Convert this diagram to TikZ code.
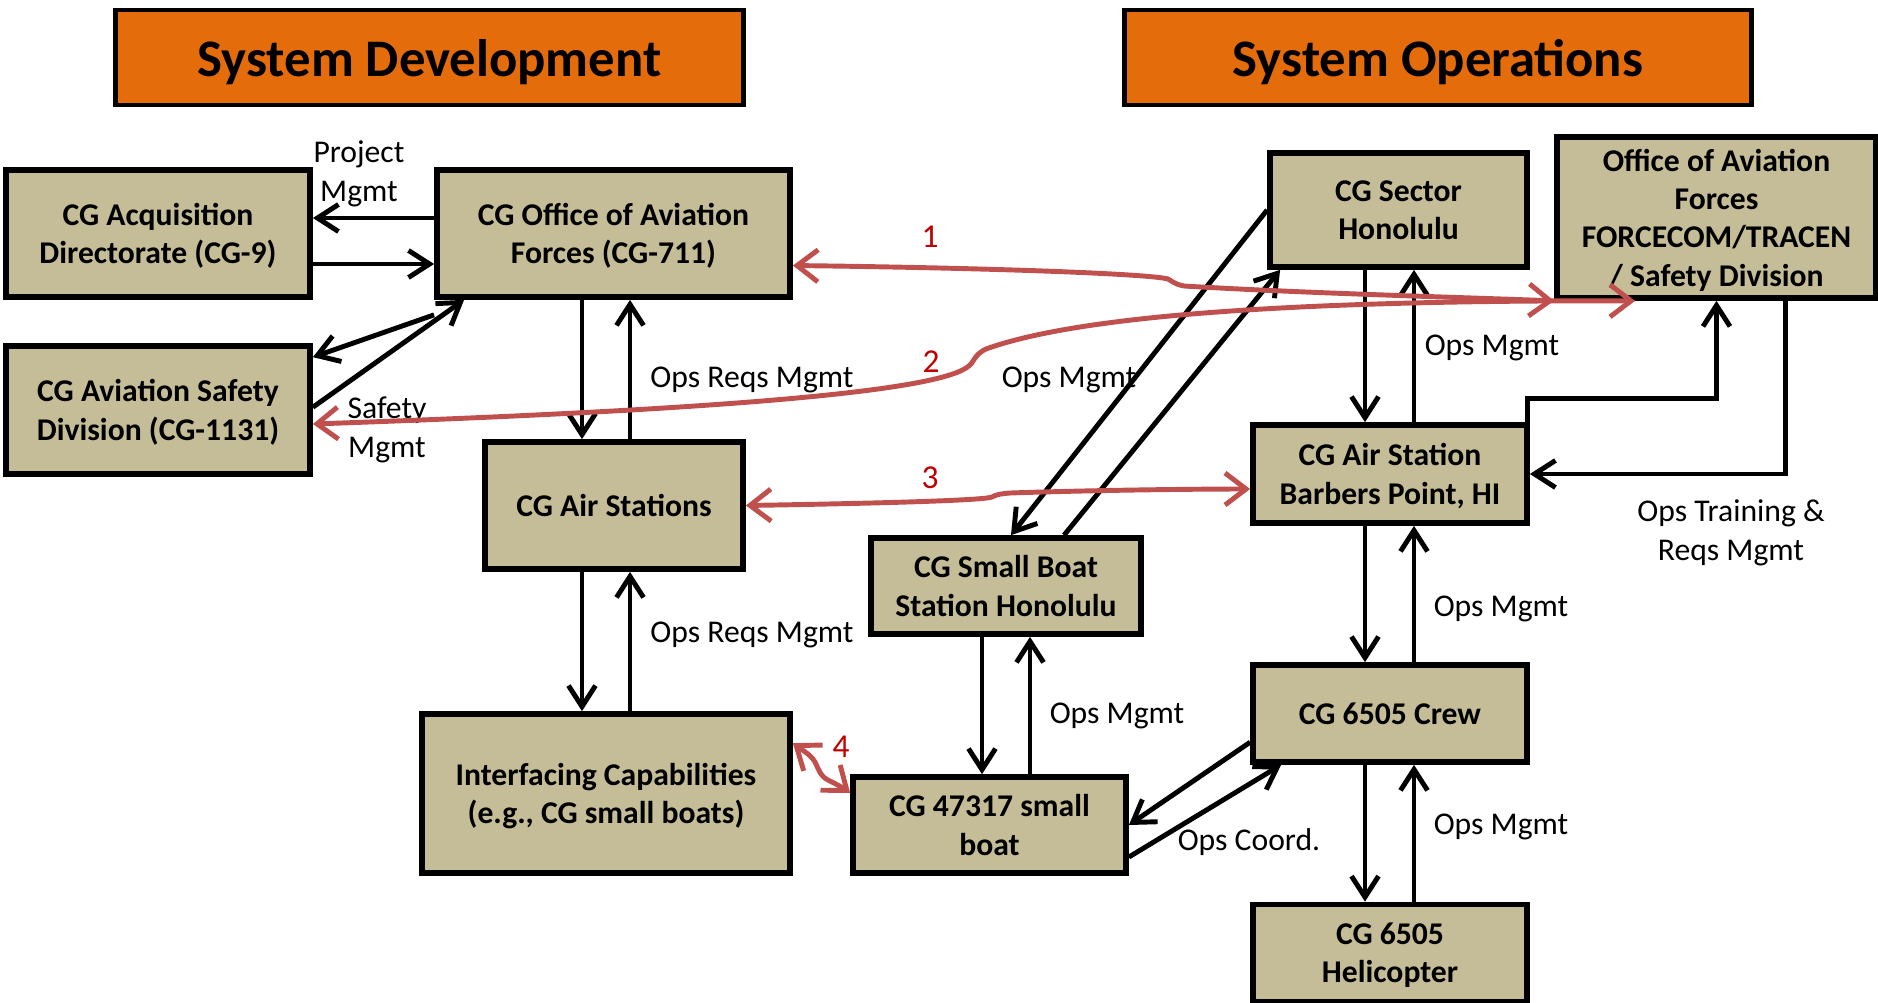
\documentclass[tikz,border=0pt]{standalone}
\usepackage{fontspec}
\setmainfont{Carlito}
\usepackage{tikz}
\usetikzlibrary{arrows.meta}

\definecolor{boxtan}{RGB}{196,189,151}
\definecolor{headorange}{RGB}{228,108,10}
\definecolor{linkred}{RGB}{192,80,77}
\definecolor{numred}{RGB}{192,0,0}

\begin{document}
\begin{tikzpicture}[x=0.01cm, y=-0.01cm,
  box/.style={draw, line width=1.6pt, fill=boxtan, align=center, inner sep=0pt, text depth=0pt,
    font=\fontsize{9}{10.9}\selectfont\bfseries},
  head/.style={draw, line width=1.4pt, fill=headorange, inner sep=0pt, text depth=0pt,
    minimum width=6.27cm, minimum height=0.95cm, font=\fontsize{15}{18}\selectfont\bfseries},
  lbl/.style={align=center, inner sep=0pt, text depth=0pt, font=\fontsize{9}{10.9}\selectfont},
  num/.style={inner sep=0pt, text=numred, font=\fontsize{9.5}{11}\selectfont},
  arr/.style={-{Straight Barb[length=2.1mm,width=2.7mm]}, line width=1.4pt},
  redarr/.style={{Straight Barb[length=2.1mm,width=3.2mm]}-{Straight Barb[length=2.1mm,width=3.2mm]},
    line width=1.4pt, draw=linkred}]
\useasboundingbox (0,0) rectangle (1878,1003);

% headings
\node[head] (hdev) at (429.5,57.5) {System Development};
\node[head] (hops) at (1438,57.5) {System Operations};

% system development
\node[box, minimum width=3.04cm, minimum height=1.27cm] (acq) at (158,233.5) {CG Acquisition\\Directorate (CG-9)};
\node[box, minimum width=3.53cm, minimum height=1.27cm] (of711) at (613.5,233.5) {CG Office of Aviation\\Forces (CG-711)};
\node[box, minimum width=3.04cm, minimum height=1.28cm] (safety) at (158,410) {CG Aviation Safety\\Division (CG-1131)};
\node[box, minimum width=2.58cm, minimum height=1.27cm] (airst) at (614,505.5) {CG Air Stations};
\node[box, minimum width=3.68cm, minimum height=1.59cm] (iface) at (606,793.5) {Interfacing Capabilities\\(e.g., CG small boats)};

% system operations
\node[box, minimum width=2.70cm, minimum height=0.96cm] (sbst) at (1006,586) {CG Small Boat\\Station Honolulu};
\node[box, minimum width=2.73cm, minimum height=0.96cm] (boat) at (989.5,825) {CG 47317 small\\boat};
\node[box, minimum width=2.57cm, minimum height=1.14cm] (sector) at (1398.5,210) {CG Sector\\Honolulu};
\node[box, minimum width=3.19cm, minimum height=1.61cm] (forcecom) at (1716.5,217.5) {Office of Aviation\\Forces\\FORCECOM/TRACEN\\/ Safety Division};
\node[box, minimum width=2.74cm, minimum height=0.98cm] (barbers) at (1390,474) {CG Air Station\\Barbers Point, HI};
\node[box, minimum width=2.74cm, minimum height=0.97cm] (crew) at (1390,713.5) {CG 6505 Crew};
\node[box, minimum width=2.74cm, minimum height=0.97cm] (heli) at (1390,953) {CG 6505\\Helicopter};

% columns and rows of the paired arrows
\coordinate (c1) at (582,0);
\coordinate (c2) at (630,0);
\coordinate (c3) at (982,0);
\coordinate (c4) at (1030,0);
\coordinate (c5) at (1365,0);
\coordinate (c6) at (1414,0);
\coordinate (r1) at (0,218);
\coordinate (r2) at (0,264);

% black connectors
\draw[arr] (of711.west |- r1) -- (acq.east |- r1);
\draw[arr] (acq.east |- r2) -- (of711.west |- r2);
\draw[arr] ([yshift=-1.5mm]of711.south west) -- ([yshift=-1.4mm]safety.north east);
\draw[arr] ([yshift=-6.4mm]safety.north east) -- ([xshift=3mm]of711.south west);
\draw[arr] (of711.south -| c1) -- (airst.north -| c1);
\draw[arr] (airst.north -| c2) -- (of711.south -| c2);
\draw[arr] (airst.south -| c1) -- (iface.north -| c1);
\draw[arr] (iface.north -| c2) -- (airst.south -| c2);
\draw[arr] (sbst.south -| c3) -- (boat.north -| c3);
\draw[arr] (boat.north -| c4) -- (sbst.south -| c4);
\draw[arr] (sector.west) -- ([xshift=0.5mm]sbst.north);
\draw[arr] ([xshift=5.8mm]sbst.north) -- ([xshift=1.3mm]sector.south west);
\draw[arr] (sector.south -| c5) -- (barbers.north -| c5);
\draw[arr] (barbers.north -| c6) -- (sector.south -| c6);
\draw[arr] (barbers.south -| c5) -- (crew.north -| c5);
\draw[arr] (crew.north -| c6) -- (barbers.south -| c6);
\draw[arr] (crew.south -| c5) -- (heli.north -| c5);
\draw[arr] (heli.north -| c6) -- (crew.south -| c6);
\draw[arr] ([yshift=-8mm]crew.north west) -- (boat.east);
\draw[arr] ([yshift=-3.2mm]boat.east) -- ([xshift=3.1mm]crew.south west);
\draw[arr] ([xshift=-0.2mm]barbers.north east) -- ++(0,-24) -| (forcecom.south);
\draw[arr] ([xshift=6.85mm]forcecom.south) |- (barbers.east);

% labels
\node[lbl] (lproj) at (359,171) {Project\\Mgmt};
\node[lbl] (lsafe) at (387,427) {Safety\\Mgmt};
\node[lbl] (lreq1) at (752,377) {Ops Reqs Mgmt};
\node[lbl] (lreq2) at (752,632) {Ops Reqs Mgmt};
\node[lbl] (lops1) at (1069,377) {Ops Mgmt};
\node[lbl] (lops2) at (1492,345) {Ops Mgmt};
\node[lbl] (lops3) at (1117,713) {Ops Mgmt};
\node[lbl] (lops4) at (1501,606) {Ops Mgmt};
\node[lbl] (lops5) at (1501,824) {Ops Mgmt};
\node[lbl] (lcoord) at (1249,840) {Ops Coord.};
\node[lbl] (ltrain) at (1731,530) {Ops Training \&\\Reqs Mgmt};

% red links
\draw[redarr] ([yshift=-3.2mm]of711.east) .. controls (1000,268) and (1150,274) .. (1168,279)
  .. controls (1172,281) and (1174,284) .. (1184,286)
  .. controls (1300,293) and (1450,297) .. (forcecom.south west);
\draw[redarr] ([yshift=-1.4mm]safety.east) .. controls (600,414) and (920,398) .. (966,368)
  .. controls (976,362) and (972,356) .. (986,349)
  .. controls (1080,315) and (1300,300) .. ([xshift=8.1mm]forcecom.south west);
\draw[redarr] (airst.east) .. controls (900,503) and (985,500) .. (992,497)
  .. controls (996,495) and (998,494) .. (1010,493)
  .. controls (1100,490) and (1200,489) .. ([yshift=-1.5mm]barbers.west);
\draw[redarr] ([yshift=-3.2mm]iface.north east) .. controls (805,752) and (812,756) .. (815,762)
  .. controls (819,770) and (820,776) .. (828,780)
  .. controls (838,785) and (845,789) .. ([yshift=3.2mm]boat.west);

\node[num] (n1) at (930,237) {1};
\node[num] (n2) at (931,362) {2};
\node[num] (n3) at (930,478) {3};
\node[num] (n4) at (841,747) {4};
\end{tikzpicture}
\end{document}
